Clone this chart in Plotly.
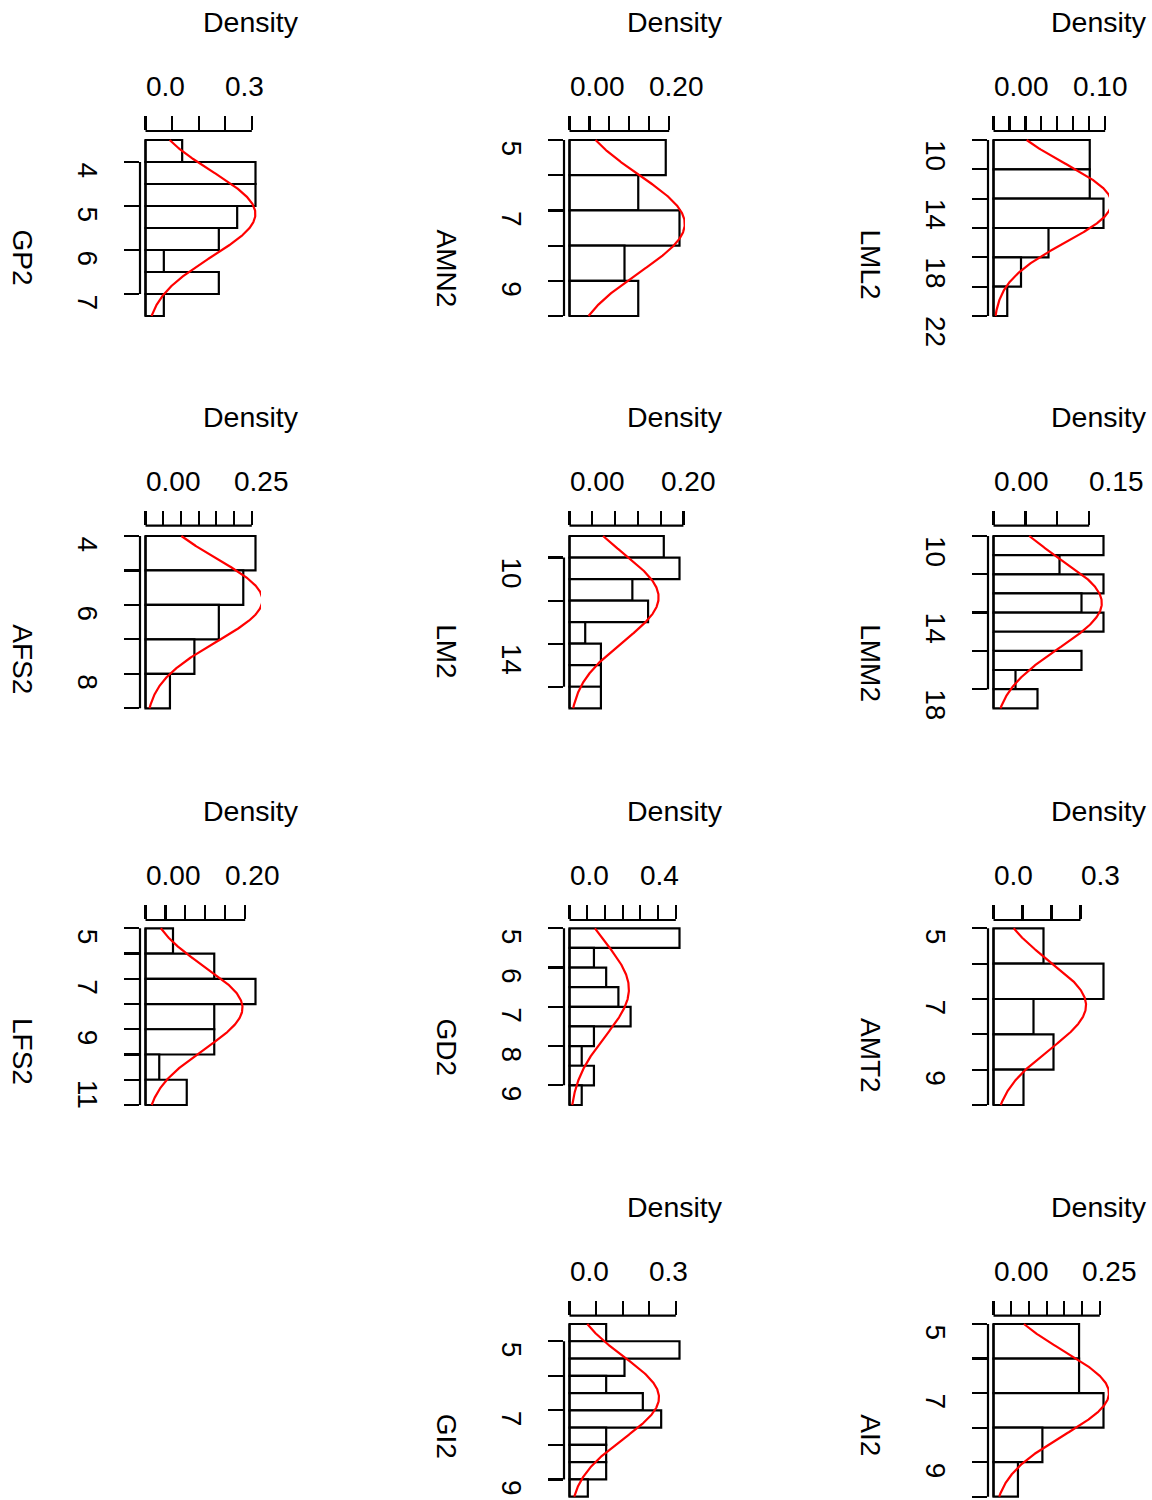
import numpy as np
import plotly.graph_objects as go

W, H = 1152, 1500
FONT = "Liberation Sans, Arimo, Arial, sans-serif"

# ---------------- data ----------------
names = ["GP2", "AMN2", "LML2", "AFS2", "LM2", "LMM2", "LFS2", "GD2", "AMT2", "GI2", "AI2"]
grid_row = [0, 0, 0, 1, 1, 1, 2, 2, 2, 3, 3]
grid_col = [0, 1, 2, 0, 1, 2, 0, 1, 2, 1, 2]

breaks_GP2 = [3.5, 4.0, 4.5, 5.0, 5.5, 6.0, 6.5, 7.0, 7.5]
counts_GP2 = [2, 6, 6, 5, 4, 1, 4, 1]
breaks_AMN2 = [5, 6, 7, 8, 9, 10]
counts_AMN2 = [7, 5, 8, 4, 5]
breaks_LML2 = [10, 12, 14, 16, 18, 20, 22]
counts_LML2 = [7, 7, 8, 4, 2, 1]
breaks_AFS2 = [4, 5, 6, 7, 8, 9]
counts_AFS2 = [9, 8, 6, 4, 2]
breaks_LM2 = [9, 10, 11, 12, 13, 14, 15, 16, 17]
counts_LM2 = [6, 7, 4, 5, 1, 2, 2, 2]
breaks_LMM2 = [10, 11, 12, 13, 14, 15, 16, 17, 18, 19]
counts_LMM2 = [5, 3, 5, 4, 5, 0, 4, 1, 2]
breaks_LFS2 = [5, 6, 7, 8, 9, 10, 11, 12]
counts_LFS2 = [2, 5, 8, 5, 5, 1, 3]
breaks_GD2 = [5.0, 5.5, 6.0, 6.5, 7.0, 7.5, 8.0, 8.5, 9.0, 9.5]
counts_GD2 = [9, 2, 3, 4, 5, 2, 1, 2, 1]
breaks_AMT2 = [5, 6, 7, 8, 9, 10]
counts_AMT2 = [5, 11, 4, 6, 3]
breaks_GI2 = [4.5, 5.0, 5.5, 6.0, 6.5, 7.0, 7.5, 8.0, 8.5, 9.0, 9.5]
counts_GI2 = [2, 6, 3, 2, 4, 5, 2, 2, 2, 1]
breaks_AI2 = [5, 6, 7, 8, 9, 10]
counts_AI2 = [7, 7, 9, 4, 2]

norm_mean = [5.18, 7.38, 14.3, 5.86, 11.85, 13.5, 8.15, 6.55, 7.18, 6.63, 7.0]
norm_sd = [0.965, 1.38, 2.7, 1.21, 2.04, 2.35, 1.64, 1.19, 1.25, 1.185, 1.225]

# value-axis ticks (vertical) and labels
vt_GP2 = [4, 5, 6, 7];                   vl_GP2 = ["4", "5", "6", "7"]
vt_AMN2 = [5, 6, 7, 8, 9, 10];           vl_AMN2 = ["5", "", "7", "", "9", ""]
vt_LML2 = [10, 12, 14, 16, 18, 20, 22];  vl_LML2 = ["10", "", "14", "", "18", "", "22"]
vt_AFS2 = [4, 5, 6, 7, 8, 9];            vl_AFS2 = ["4", "", "6", "", "8", ""]
vt_LM2 = [10, 12, 14, 16];               vl_LM2 = ["10", "", "14", ""]
vt_LMM2 = [10, 12, 14, 16, 18];          vl_LMM2 = ["10", "", "14", "", "18"]
vt_LFS2 = [5, 6, 7, 8, 9, 10, 11, 12];   vl_LFS2 = ["5", "", "7", "", "9", "", "11", ""]
vt_GD2 = [5, 6, 7, 8, 9];                vl_GD2 = ["5", "6", "7", "8", "9"]
vt_AMT2 = [5, 6, 7, 8, 9, 10];           vl_AMT2 = ["5", "", "7", "", "9", ""]
vt_GI2 = [5, 6, 7, 8, 9];                vl_GI2 = ["5", "", "7", "", "9"]
vt_AI2 = [5, 6, 7, 8, 9, 10];            vl_AI2 = ["5", "", "7", "", "9", ""]

# density-axis ticks (horizontal, top) and labels
dt_GP2 = [0.0, 0.1, 0.2, 0.3, 0.4];                 dl_GP2 = ["0.0", "", "", "0.3", ""]
dt_AMN2 = [0.0, 0.05, 0.10, 0.15, 0.20, 0.25];      dl_AMN2 = ["0.00", "", "", "", "0.20", ""]
dt_LML2 = [0.0, 0.02, 0.04, 0.06, 0.08, 0.10, 0.12, 0.14]
dl_LML2 = ["0.00", "", "", "", "", "0.10", "", ""]
dt_AFS2 = [0.0, 0.05, 0.10, 0.15, 0.20, 0.25, 0.30]; dl_AFS2 = ["0.00", "", "", "", "", "0.25", ""]
dt_LM2 = [0.0, 0.05, 0.10, 0.15, 0.20, 0.25];       dl_LM2 = ["0.00", "", "", "", "0.20", ""]
dt_LMM2 = [0.0, 0.05, 0.10, 0.15];                  dl_LMM2 = ["0.00", "", "", "0.15"]
dt_LFS2 = [0.0, 0.05, 0.10, 0.15, 0.20, 0.25];      dl_LFS2 = ["0.00", "", "", "", "0.20", ""]
dt_GD2 = [0.0, 0.1, 0.2, 0.3, 0.4, 0.5, 0.6];       dl_GD2 = ["0.0", "", "", "", "0.4", "", ""]
dt_AMT2 = [0.0, 0.1, 0.2, 0.3];                     dl_AMT2 = ["0.0", "", "", "0.3"]
dt_GI2 = [0.0, 0.1, 0.2, 0.3, 0.4];                 dl_GI2 = ["0.0", "", "", "0.3", ""]
dt_AI2 = [0.0, 0.05, 0.10, 0.15, 0.20, 0.25, 0.30]; dl_AI2 = ["0.00", "", "", "", "", "0.25", ""]

breaks = [breaks_GP2, breaks_AMN2, breaks_LML2, breaks_AFS2, breaks_LM2, breaks_LMM2,
          breaks_LFS2, breaks_GD2, breaks_AMT2, breaks_GI2, breaks_AI2]
counts = [counts_GP2, counts_AMN2, counts_LML2, counts_AFS2, counts_LM2, counts_LMM2,
          counts_LFS2, counts_GD2, counts_AMT2, counts_GI2, counts_AI2]
vticks = [vt_GP2, vt_AMN2, vt_LML2, vt_AFS2, vt_LM2, vt_LMM2, vt_LFS2, vt_GD2, vt_AMT2, vt_GI2, vt_AI2]
vlabels = [vl_GP2, vl_AMN2, vl_LML2, vl_AFS2, vl_LM2, vl_LMM2, vl_LFS2, vl_GD2, vl_AMT2, vl_GI2, vl_AI2]
dticks = [dt_GP2, dt_AMN2, dt_LML2, dt_AFS2, dt_LM2, dt_LMM2, dt_LFS2, dt_GD2, dt_AMT2, dt_GI2, dt_AI2]
dlabels = [dl_GP2, dl_AMN2, dl_LML2, dl_AFS2, dl_LM2, dl_LMM2, dl_LFS2, dl_GD2, dl_AMT2, dl_GI2, dl_AI2]

# ---------------- geometry (pixels) ----------------
COL_X = [140, 564, 988]                 # left edge of plot region
PLOT_W = 121
ROW_TOP = [131, 525.7, 920, 1315.7]     # top edge of plot region
BAR_TOP = [140, 536, 928.3, 1324]
BAR_BOT = [316, 708.3, 1105, 1496.7]

fig = go.Figure()
shapes = []
annotations = []
layout_axes = {}
LW = 2.2

for i, name in enumerate(names):
    r, c = grid_row[i], grid_col[i]
    sid = "" if i == 0 else str(i + 1)
    xa, ya = "x" + sid, "y" + sid

    br = np.array(breaks[i], dtype=float)
    cnt = np.array(counts[i], dtype=float)
    n = cnt.sum()
    widths = np.diff(br)
    dens = cnt / (n * widths)
    mids = (br[:-1] + br[1:]) / 2
    M = dens.max()

    x0p = COL_X[c]
    x1p = x0p + PLOT_W
    xrange = [-0.05 * M, 1.05 * M]

    top_p = ROW_TOP[r]
    pad_p = BAR_TOP[r] - ROW_TOP[r]
    bot_p = min(BAR_BOT[r] + pad_p, H)
    b0, bN = br[0], br[-1]
    scale = (bN - b0) / (BAR_BOT[r] - BAR_TOP[r])
    v_top = b0 + (top_p - BAR_TOP[r]) * scale
    v_bot = b0 + (bot_p - BAR_TOP[r]) * scale

    layout_axes["xaxis" + sid] = dict(
        domain=[x0p / W, x1p / W], range=xrange, anchor=ya, side="top",
        tickmode="array", tickvals=dticks[i], ticks="outside", ticklen=14,
        tickwidth=LW, tickcolor="black", showticklabels=False,
        showgrid=False, zeroline=False, showline=False, fixedrange=True)
    layout_axes["yaxis" + sid] = dict(
        domain=[1 - bot_p / H, 1 - top_p / H], range=[v_bot, v_top], anchor=xa,
        side="left", tickmode="array", tickvals=vticks[i], ticks="outside",
        ticklen=15, tickwidth=LW, tickcolor="black", showticklabels=False,
        showgrid=False, zeroline=False, showline=False, fixedrange=True)

    fig.add_trace(go.Bar(
        x=dens, y=mids, width=widths, orientation="h", base=0,
        marker=dict(color="white", line=dict(color="black", width=LW)),
        xaxis=xa, yaxis=ya, showlegend=False, hoverinfo="skip"))

    yy = np.linspace(b0, bN, 301)
    m, s = norm_mean[i], norm_sd[i]
    xx = np.exp(-0.5 * ((yy - m) / s) ** 2) / (s * np.sqrt(2 * np.pi))
    fig.add_trace(go.Scatter(
        x=xx, y=yy, mode="lines", line=dict(color="red", width=LW),
        xaxis=xa, yaxis=ya, showlegend=False, hoverinfo="skip"))

    dt = dticks[i]
    shapes.append(dict(type="line", xref=xa, yref=ya + " domain",
                       x0=dt[0], x1=dt[-1], y0=1, y1=1,
                       line=dict(color="black", width=LW)))
    vt = vticks[i]
    shapes.append(dict(type="line", xref=xa + " domain", yref=ya,
                       x0=0, x1=0, y0=vt[0], y1=vt[-1],
                       line=dict(color="black", width=LW)))
    # left edge of the histogram (R draws it even through empty bins)
    shapes.append(dict(type="line", xref=xa, yref=ya,
                       x0=0, x1=0, y0=float(br[0]), y1=float(br[-1]),
                       line=dict(color="black", width=LW)))

    for tv, lab in zip(dt, dlabels[i]):
        if lab:
            annotations.append(dict(
                text=lab, xref=xa, x=tv, yref="paper", y=1 - (top_p - 44.5) / H,
                xanchor="left", yanchor="middle", showarrow=False, xshift=-2,
                font=dict(family=FONT, size=28, color="black")))

    for tv, lab in zip(vt, vlabels[i]):
        if lab:
            annotations.append(dict(
                text=lab, xref="paper", x=(x0p - 52.5) / W, yref=ya, y=tv,
                xanchor="center", yanchor="top", textangle=90, showarrow=False,
                yshift=2, font=dict(family=FONT, size=28, color="black")))

    annotations.append(dict(
        text=name, xref="paper", x=(x0p - 117.5) / W, yref="paper",
        y=1 - (top_p + 96) / H, xanchor="center", yanchor="top", textangle=90,
        showarrow=False, font=dict(family=FONT, size=28, color="black")))

    annotations.append(dict(
        text="Density", xref="paper", x=(x0p + PLOT_W / 2) / W, yref="paper",
        y=1 - (top_p - 109) / H, xanchor="left", yanchor="middle", showarrow=False,
        font=dict(family=FONT, size=28.5, color="black")))

fig.update_layout(
    width=W, height=H, autosize=False,
    margin=dict(l=0, r=0, t=0, b=0),
    paper_bgcolor="white", plot_bgcolor="white",
    barmode="overlay", showlegend=False, hovermode=False,
    shapes=shapes, annotations=annotations,
    **layout_axes)

fig.write_html("out.html",
               config={"displayModeBar": False, "staticPlot": True},
               post_script="document.body.style.margin='0px';document.body.style.overflow='hidden';")
